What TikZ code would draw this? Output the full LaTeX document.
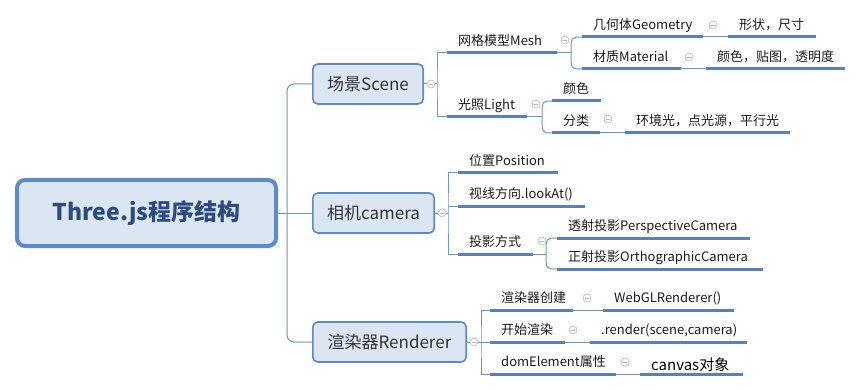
\documentclass[tikz,border=0pt]{standalone}
\usepackage{fontspec}
\setmainfont{Noto Sans CJK SC}
\definecolor{boxfill}{HTML}{DCE6F2}
\definecolor{boxline}{HTML}{5E8AC4}
\definecolor{rootline}{HTML}{5B8BCB}
\definecolor{roottext}{HTML}{2B4C7E}
\definecolor{ulcol}{HTML}{5681BA}
\definecolor{conncol}{HTML}{6A95CB}
\definecolor{foldcol}{HTML}{B5B5B5}
\definecolor{lvtext}{HTML}{333333}
\definecolor{txt}{HTML}{1A1A1A}
\begin{document}
\begin{tikzpicture}[x=1pt,y=-1pt,
  conn/.style={draw=conncol, line width=1pt},
  ul/.style={draw=ulcol, line width=3pt},
  fold/.style={circle, draw=foldcol, fill=white, line width=.6pt, minimum size=8pt, inner sep=0pt,
    path picture={\draw[foldcol,line width=.6pt] ([xshift=-2.2pt]path picture bounding box.center) -- ([xshift=2.2pt]path picture bounding box.center);}},
  rootbox/.style={draw=rootline, line width=4pt, fill=boxfill, rounded corners=8pt,
    minimum width=259pt, minimum height=66pt, inner sep=0pt,
    font=\bfseries\fontsize{23}{27}\selectfont, text=roottext},
  topbox/.style={draw=boxline, line width=1.6pt, fill=boxfill, rounded corners=5pt,
    minimum height=40pt, inner sep=0pt, font=\fontsize{17}{20}\selectfont, text=lvtext},
  topic/.style={anchor=south west, inner xsep=11pt, inner ysep=0pt, text height=11pt, text depth=7pt,
    font=\fontsize{13}{15}\selectfont, text=txt,
    execute at begin node={\hbox to #1pt\bgroup}, execute at end node={\hss\egroup}}
]
\useasboundingbox (0,0) rectangle (864,390);
\fill[white] (0,0) rectangle (864,390);

% root and main topics
\node[rootbox] (root) at (146.5,213) {Three.js程序结构};
\node[topbox, minimum width=110.4pt] (scene) at (368,84) {场景Scene};
\node[topbox, minimum width=121.4pt] (camera) at (373.5,213) {相机camera};
\node[topbox, minimum width=153.4pt] (renderer) at (389.5,342) {渲染器Renderer};

% scene subtopics
\node[topic=88] (mesh) at (447,53) {网格模型Mesh};
\node[topic=58] (light) at (447,117) {光照Light};
\node[topic=99] (geo) at (582,37) {几何体Geometry};
\node[topic=77] (mat) at (582,69) {材质Material};
\node[topic=66] (shape) at (728,37) {形状，尺寸};
\node[topic=117] (matp) at (706,69) {颜色，贴图，透明度};
\node[topic=27] (color) at (552,101) {颜色};
\node[topic=26] (cat) at (552,133) {分类};
\node[topic=143] (cattypes) at (625,133) {环境光，点光源，平行光};

% camera subtopics
\node[topic=78] (pos) at (458,173) {位置Position};
\node[topic=105] (look) at (458,206) {视线方向.lookAt()};
\node[topic=53] (proj) at (458,254) {投影方式};
\node[topic=171] (persp) at (557,238) {透射投影PerspectiveCamera};
\node[topic=184] (ortho) at (557,269) {正射投影OrthographicCamera};

% renderer subtopics
\node[topic=61] (create) at (490,310) {渲染器创建};
\node[topic=109] (webgl) at (603,310) {WebGLRenderer()};
\node[topic=53] (start) at (490,342) {开始渲染};
\node[topic=135] (render) at (590,342) {.render(scene,camera)};
\node[topic=104] (dom) at (490,374) {domElement属性};
\node[topic=81, text depth=3pt, text height=13pt, font=\fontsize{15}{18}\selectfont, text=black] (canvas) at (640,374) {canvas对象};

% trunk
\coordinate (tk) at (287,213);
\draw[conn, rounded corners=7pt] (scene.west) -| (tk) |- (renderer.west);
\draw[conn] (root.east) -- (camera.west);

% scene brackets and forks
\coordinate (sb) at (437,84);
\draw[conn] (scene.east) -- (sb);
\draw[conn] (mesh.south west) -| (sb) |- (light.south west);
\coordinate (mj) at (571,53);
\draw[conn] (mesh.south east) -- (mj);
\draw[conn] (mj) .. controls (mj |- geo.south west) .. (geo.south west);
\draw[conn] (mj) .. controls (mj |- mat.south west) .. (mat.south west);
\draw[conn] (geo.south east) -- (shape.south west);
\draw[conn] (mat.south east) -- (matp.south west);
\coordinate (lj) at (542,117);
\draw[conn] (light.south east) -- (lj);
\draw[conn] (lj) .. controls (lj |- color.south west) .. (color.south west);
\draw[conn] (lj) .. controls (lj |- cat.south west) .. (cat.south west);
\draw[conn] (cat.south east) -- (cattypes.south west);

% camera bracket and fork
\coordinate (cb) at (448,213);
\draw[conn] (camera.east) -- (cb);
\draw[conn] (pos.south west) -| (cb) |- (proj.south west);
\draw[conn] (look.south west) -- (look.south west -| cb);
\coordinate (pj) at (546,254);
\draw[conn] (proj.south east) -- (pj);
\draw[conn] (pj) .. controls (pj |- persp.south west) .. (persp.south west);
\draw[conn] (pj) .. controls (pj |- ortho.south west) .. (ortho.south west);

% renderer bracket
\coordinate (rb) at (481,342);
\draw[conn] (renderer.east) -- (start.south west);
\draw[conn] (create.south west) -| (rb) |- (dom.south west);
\draw[conn] (create.south east) -- (webgl.south west);
\draw[conn] (start.south east) -- (render.south west);
\draw[conn] (dom.south east) -- (canvas.south west);

% underlines
\foreach \n in {mesh,light,geo,mat,shape,matp,color,cat,cattypes,pos,look,proj,persp,ortho,create,webgl,start,render,dom,canvas}
  \draw[ul] (\n.south west) -- (\n.south east);

% fold markers
\node[fold] (fscene) at (431,84) {};
\node[fold] (fcamera) at (442,213) {};
\node[fold] (frenderer) at (474,342) {};
\node[fold] (fmesh) at (565,40) {};
\node[fold] (fgeo) at (713,25) {};
\node[fold] (fmat) at (689,57) {};
\node[fold] (flight) at (536,104) {};
\node[fold] (fcat) at (608,119) {};
\node[fold] (fproj) at (542,241) {};
\node[fold] (fcreate) at (587,298) {};
\node[fold] (fstart) at (573,330) {};
\node[fold] (fdom) at (625,362) {};
\end{tikzpicture}
\end{document}
